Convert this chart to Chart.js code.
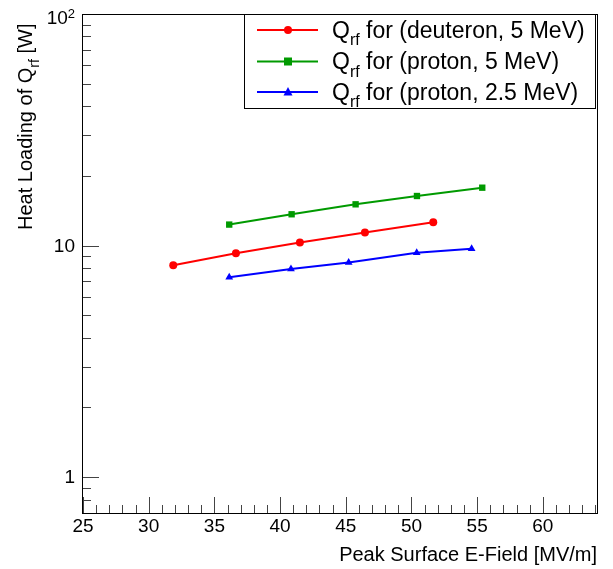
<!DOCTYPE html>
<html>
<head>
<meta charset="utf-8">
<script src="https://cdn.jsdelivr.net/npm/chart.js@4.4.0/dist/chart.umd.min.js"></script>
<style>
  body { margin: 0; background: #fff; }
  #grafico { display: block; }
</style>
</head>
<body>
<canvas id="grafico" width="613" height="569"></canvas>
<script>
// Valores
const seriesNames = ["for (deuteron, 5 MeV)", "for (proton, 5 MeV)", "for (proton, 2.5 MeV)"];
const fieldDeuteron5 = [31.87, 36.64, 41.51, 46.46, 51.66];
const heatDeuteron5 = [8.22, 9.26, 10.30, 11.38, 12.60];
const fieldProton5 = [36.13, 40.88, 45.75, 50.42, 55.39];
const heatProton5 = [12.32, 13.65, 15.07, 16.37, 17.78];
const fieldProton25 = [36.13, 40.83, 45.22, 50.40, 54.58];
const heatProton25 = [7.30, 7.93, 8.45, 9.30, 9.70];

const xTicks = [25, 30, 35, 40, 45, 50, 55, 60];
const yTicks = [1, 10, 100];
const yTickLabels = ["1", "10", "10"];

const FONT = "'Liberation Sans', Arial, Helvetica, sans-serif";
const colores = ["#ff0000", "#009a00", "#0000ff"];
const marcadores = ["circle", "rect", "triangle"];

function puntos(xs, ys) {
    return xs.map((v, i) => ({ x: v, y: ys[i] }));
}

// Dibuja "antes Q" con subíndice "rf" y luego "despues"
function textoQ(ctx, x, y, size, antes, despues) {
    ctx.font = size + "px " + FONT;
    const cabeza = antes + "Q";
    ctx.fillText(cabeza, x, y);
    let w = ctx.measureText(cabeza).width;
    const sub = Math.round(size * 0.68);
    ctx.font = sub + "px " + FONT;
    ctx.fillText("rf", x + w, y + size * 0.33);
    w += ctx.measureText("rf").width;
    ctx.font = size + "px " + FONT;
    ctx.fillText(despues, x + w, y);
    return w + ctx.measureText(despues).width;
}

function marcador(ctx, estilo, x, y, color) {
    ctx.fillStyle = color;
    ctx.beginPath();
    if (estilo === "circle") {
        ctx.arc(x, y, 4, 0, Math.PI * 2);
    } else if (estilo === "rect") {
        ctx.rect(x - 4, y - 4, 8, 8);
    } else {
        ctx.moveTo(x, y - 5);
        ctx.lineTo(x + 4.5, y + 3.5);
        ctx.lineTo(x - 4.5, y + 3.5);
        ctx.closePath();
    }
    ctx.fill();
}

// Marco, marcas y textos al estilo ROOT
const marcoRoot = {
    id: "marcoRoot",
    afterDraw(chart) {
        const { ctx, chartArea: a, scales: { x, y } } = chart;
        ctx.save();

        // marcas del eje x
        ctx.strokeStyle = "#444";
        ctx.lineWidth = 1;
        ctx.beginPath();
        for (let v = 25; v <= x.max; v += 1) {
            const px = Math.round(x.getPixelForValue(v)) + 0.5;
            const largo = xTicks.includes(v) ? 16 : 8;
            ctx.moveTo(px, a.bottom);
            ctx.lineTo(px, a.bottom - largo);
        }
        // marcas del eje y
        for (let dec = 0.1; dec <= 100; dec *= 10) {
            for (let m = 1; m <= 9; m++) {
                const v = dec * m;
                if (v < y.min || v > y.max) continue;
                const py = Math.round(y.getPixelForValue(v)) + 0.5;
                const largo = m === 1 ? 16 : 8;
                ctx.moveTo(a.left, py);
                ctx.lineTo(a.left + largo, py);
            }
        }
        ctx.stroke();

        // marco
        ctx.strokeStyle = "#000";
        ctx.strokeRect(a.left - 0.5, a.top + 0.5, a.right - a.left, a.bottom - a.top);

        // etiquetas
        ctx.fillStyle = "#000";
        ctx.font = "19px " + FONT;
        ctx.textAlign = "center";
        ctx.textBaseline = "middle";
        xTicks.forEach(v => ctx.fillText(String(v), x.getPixelForValue(v), 527));

        ctx.textAlign = "right";
        yTicks.forEach((v, i) => {
            const py = y.getPixelForValue(v);
            if (i === yTicks.length - 1) {
                ctx.font = "13px " + FONT;
                ctx.fillText("2", 75, py);
                const w2 = ctx.measureText("2").width;
                ctx.font = "19px " + FONT;
                ctx.fillText(yTickLabels[i], 75 - w2, py + 5);
            } else {
                ctx.font = "19px " + FONT;
                ctx.fillText(yTickLabels[i], 75, py + 1);
            }
        });

        // título eje x
        ctx.textAlign = "right";
        ctx.textBaseline = "alphabetic";
        ctx.font = "20px " + FONT;
        ctx.fillText("Peak Surface E-Field [MV/m]", 597, 561);

        // título eje y
        ctx.save();
        ctx.translate(32, 230);
        ctx.rotate(-Math.PI / 2);
        ctx.textAlign = "left";
        ctx.textBaseline = "alphabetic";
        textoQ(ctx, 0, 0, 20, "Heat Loading of ", " [W]");
        ctx.restore();

        // leyenda
        const lx = 244, ly = 14, lw = 351, lh = 94;
        ctx.fillStyle = "#fff";
        ctx.fillRect(lx, ly, lw, lh);
        ctx.strokeStyle = "#000";
        ctx.lineWidth = 1;
        ctx.strokeRect(lx + 0.5, ly + 0.5, lw, lh);
        const filas = [30, 61.5, 92];
        chart.data.datasets.forEach((ds, i) => {
            const fy = filas[i];
            ctx.strokeStyle = colores[i];
            ctx.lineWidth = 2;
            ctx.beginPath();
            ctx.moveTo(257, fy);
            ctx.lineTo(318, fy);
            ctx.stroke();
            marcador(ctx, marcadores[i], 288, fy, colores[i]);
            ctx.fillStyle = "#000";
            ctx.textAlign = "left";
            ctx.textBaseline = "alphabetic";
            textoQ(ctx, 332, fy + 7.5, 23, "", " " + seriesNames[i]);
        });

        ctx.restore();
    }
};

const chart = new Chart(document.getElementById("grafico"), {
    type: "line",
    data: {
        datasets: [
            { label: "Q_rf " + seriesNames[0], data: puntos(fieldDeuteron5, heatDeuteron5) },
            { label: "Q_rf " + seriesNames[1], data: puntos(fieldProton5, heatProton5) },
            { label: "Q_rf " + seriesNames[2], data: puntos(fieldProton25, heatProton25) }
        ].map((ds, i) => Object.assign(ds, {
            borderColor: colores[i],
            backgroundColor: colores[i],
            borderWidth: 2,
            pointStyle: marcadores[i],
            pointRadius: marcadores[i] === "circle" ? 4 : 4.5,
            pointBorderWidth: 0,
            tension: 0,
            fill: false
        }))
    },
    options: {
        responsive: false,
        devicePixelRatio: 1,
        animation: false,
        layout: { padding: { left: 83, top: 14, right: 15, bottom: 56 } },
        plugins: { legend: { display: false }, tooltip: { enabled: false } },
        scales: {
            x: { type: "linear", min: 25, max: 64.2, display: false },
            y: { type: "logarithmic", min: 0.705, max: 100, display: false }
        }
    },
    plugins: [marcoRoot]
});
</script>
</body>
</html>
